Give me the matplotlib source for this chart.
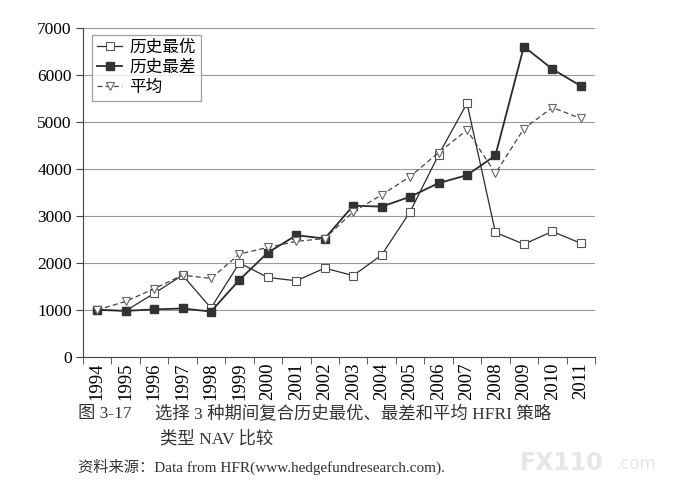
import matplotlib.pyplot as plt
import numpy as np

years = [str(y) for y in range(1994, 2012)]
best = [1000, 980, 1350, 1740, 1040, 2000, 1690, 1620, 1890, 1730, 2170, 3090, 4300, 5400, 2650, 2400, 2670, 2420]
worst = [1000, 980, 1010, 1030, 965, 1640, 2220, 2590, 2520, 3220, 3200, 3410, 3700, 3870, 4290, 6610, 6130, 5770]
average = [1000, 1180, 1450, 1740, 1670, 2190, 2330, 2460, 2520, 3090, 3450, 3840, 4350, 4830, 3910, 4860, 5310, 5080]
labels = ["历史最优", "历史最差", "平均"]

plt.rcParams["font.family"] = ["Liberation Serif", "Noto Sans CJK SC"]

fig = plt.figure(figsize=(6.8, 5.04), dpi=100)
ax = fig.add_axes([0.122, 0.292, 0.753, 0.652])

x = np.arange(len(years))
ink = "#2b2b2b"
ax.plot(x, best, color=ink, lw=0.9, marker="s", ms=5.5, mfc="white", mec="#555555", mew=0.8, label=labels[0])
ax.plot(x, worst, color=ink, lw=1.3, marker="s", ms=5.5, mfc="#333333", mec="#333333", label=labels[1])
ax.plot(x, average, color="#444444", lw=0.9, ls=(0, (4, 2.5)), marker="v", ms=6, mfc="white", mec="#666666", mew=0.8, label=labels[2])

ax.set_xlim(-0.5, len(years) - 0.5)
ax.set_ylim(0, 7000)
ax.set_yticks(range(0, 7001, 1000))
ax.yaxis.grid(True, color="#999999", lw=0.8)
ax.set_axisbelow(True)

ax.set_xticks(x)
ax.set_xticklabels(years, rotation=90, fontsize=13.5)
ax.set_xticks(np.arange(-0.5, len(years), 1), minor=True)
ax.tick_params(axis="x", which="major", length=0, pad=4)
ax.tick_params(axis="x", which="minor", length=5, direction="out", color="#444444")
ax.tick_params(axis="y", labelsize=12.5, length=5, color="#444444", pad=3)

for s in ("top", "right"):
    ax.spines[s].set_visible(False)
for s in ("left", "bottom"):
    ax.spines[s].set_color("#444444")

leg = ax.legend(loc="upper left", bbox_to_anchor=(0.012, 0.99), fontsize=12, frameon=True,
                fancybox=False, edgecolor="#888888", handlelength=1.5, handletextpad=0.4,
                borderpad=0.3, labelspacing=0.25, borderaxespad=0.2)
leg.get_frame().set_linewidth(0.9)

fig.text(0.115, 0.17, "图 3-17", fontsize=12.5, color="#333333")
fig.text(0.228, 0.17, "选择 3 种期间复合历史最优、最差和平均 HFRI 策略", fontsize=12.5, color="#333333")
fig.text(0.235, 0.121, "类型 NAV 比较", fontsize=12.5, color="#333333")
fig.text(0.115, 0.063, "资料来源：Data from HFR(www.hedgefundresearch.com).", fontsize=11, color="#333333")

fig.text(0.765, 0.068, "FX110", fontsize=17, fontweight="bold", color="#e6e6e6", family="DejaVu Sans")
fig.text(0.905, 0.07, ".com", fontsize=12, color="#e6e6e6", family="DejaVu Sans")

fig.savefig("out.png", dpi=100)
